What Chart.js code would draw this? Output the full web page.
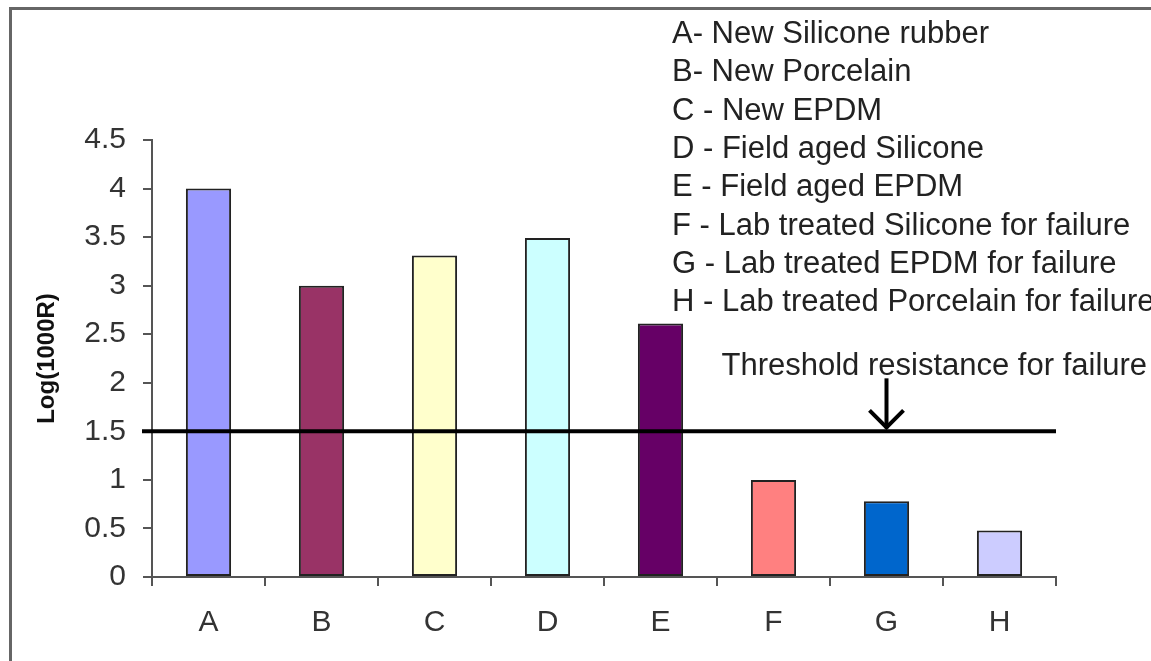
<!DOCTYPE html>
<html><head><meta charset="utf-8">
<script src="https://cdn.jsdelivr.net/npm/chart.js@4"></script>
<style>html,body{margin:0;padding:0;background:#fff;overflow:hidden}#wrap{width:1151px;height:661px;position:relative}</style>
</head><body><div id="wrap"><canvas id="c" width="1151" height="661"></canvas></div>
<script>
const categories = ['A','B','C','D','E','F','G','H'];
const values = [4.0, 3.0, 3.31, 3.49, 2.61, 1.0, 0.78, 0.48];
const barColors = ['#9999FF','#993366','#FFFFCC','#CCFFFF','#660066','#FF8080','#0066CC','#CCCCFF'];
const legendLines = [
  'A- New Silicone rubber',
  'B- New Porcelain',
  'C - New EPDM',
  'D - Field aged Silicone',
  'E - Field aged EPDM',
  'F - Lab treated Silicone for failure',
  'G - Lab treated EPDM for failure',
  'H - Lab treated Porcelain for failure'
];
const threshold = 1.5;
const thresholdLabel = 'Threshold resistance for failure';
const arrowCategory = 'G';
const yMin = 0, yMax = 4.5, yStep = 0.5;
const yTitle = 'Log(1000R)';

const FONT = '"Liberation Sans", Arial, sans-serif';

const extras = {
  id: 'extras',
  beforeDraw(chart) {
    const ctx = chart.ctx;
    ctx.save();
    ctx.fillStyle = '#fff';
    ctx.fillRect(0, 0, chart.width, chart.height);
    ctx.strokeStyle = '#666';
    ctx.lineWidth = 3;
    ctx.beginPath();
    ctx.moveTo(10.5, chart.height);
    ctx.lineTo(10.5, 8.5);
    ctx.lineTo(chart.width, 8.5);
    ctx.stroke();
    ctx.restore();
  },
  afterDatasetsDraw(chart) {
    const ctx = chart.ctx;
    const y = chart.scales.y.getPixelForValue(threshold);
    const a = chart.chartArea;
    ctx.save();
    ctx.strokeStyle = '#000';
    ctx.lineWidth = 4;
    ctx.beginPath();
    ctx.moveTo(a.left - 10, y);
    ctx.lineTo(a.right, y);
    ctx.stroke();
    // arrow
    const ax = chart.scales.x.getPixelForValue(categories.indexOf(arrowCategory));
    ctx.lineWidth = 4;
    ctx.beginPath();
    ctx.moveTo(ax, y - 53);
    ctx.lineTo(ax, y - 3);
    ctx.stroke();
    ctx.beginPath();
    ctx.moveTo(ax - 17, y - 21);
    ctx.lineTo(ax, y - 4);
    ctx.lineTo(ax + 17, y - 21);
    ctx.stroke();
    // label
    ctx.fillStyle = '#222';
    ctx.font = '31px ' + FONT;
    ctx.textAlign = 'left';
    ctx.textBaseline = 'middle';
    ctx.fillText(thresholdLabel, ax - 165, y - 65);
    // legend text
    ctx.textBaseline = 'alphabetic';
    legendLines.forEach((t, i) => ctx.fillText(t, 672, 43 + i * 38.3));
    ctx.restore();
  }
};

new Chart(document.getElementById('c'), {
  type: 'bar',
  data: {
    labels: categories,
    datasets: [{
      data: values,
      backgroundColor: barColors,
      borderColor: '#222',
      borderWidth: 2,
      borderSkipped: false,
      barPercentage: 0.4,
      categoryPercentage: 1
    }]
  },
  options: {
    responsive: false,
    animation: false,
    devicePixelRatio: 1,
    layout: { padding: { top: 140, right: 95, left: 0, bottom: 0 } },
    plugins: { legend: { display: false }, tooltip: { enabled: false } },
    scales: {
      x: {
        afterFit(s) { s.height = 84; },
        grid: { offset: true, drawOnChartArea: false, drawTicks: true, tickLength: 9, color: '#555', lineWidth: 2 },
        border: { color: '#555', width: 2 },
        ticks: { font: { family: FONT, size: 30 }, color: '#333', padding: 19 }
      },
      y: {
        min: yMin, max: yMax,
        afterFit(s) { s.width = 152; },
        grid: { drawOnChartArea: false, drawTicks: true, tickLength: 9, color: '#555', lineWidth: 2 },
        border: { color: '#555', width: 2 },
        ticks: { stepSize: yStep, font: { family: FONT, size: 30 }, color: '#333', padding: 17, callback: v => String(v) },
        title: { display: true, text: yTitle, font: { family: FONT, size: 24, weight: 'bold' }, color: '#111', padding: { top: 33, bottom: 0 } }
      }
    }
  },
  plugins: [extras]
});
</script></body></html>
